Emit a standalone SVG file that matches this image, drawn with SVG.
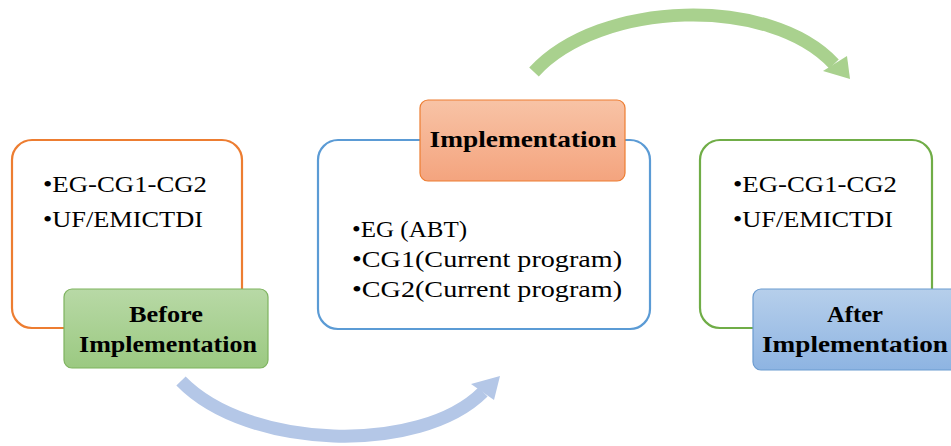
<svg xmlns="http://www.w3.org/2000/svg" width="951" height="446" viewBox="0 0 951 446">
<style>
.frame{fill:#ffffff;stroke-width:2.2}
.lbl{stroke-width:1.2}
.txt{font-family:"Liberation Serif","Times New Roman",serif;font-size:23.5px;fill:#000}
.b{font-weight:bold;text-anchor:middle}
</style>
<defs>
<linearGradient id="gGreen" x1="0" y1="0" x2="0" y2="1"><stop offset="0" stop-color="#b8d9a6"/><stop offset="1" stop-color="#9bc981"/></linearGradient>
<linearGradient id="gOrange" x1="0" y1="0" x2="0" y2="1"><stop offset="0" stop-color="#f8c3a6"/><stop offset="1" stop-color="#f4a47e"/></linearGradient>
<linearGradient id="gBlue" x1="0" y1="0" x2="0" y2="1"><stop offset="0" stop-color="#b6cfeb"/><stop offset="1" stop-color="#8eb4e2"/></linearGradient>
</defs>
<rect width="951" height="446" fill="#ffffff"/>
<g id="connectors">
<path d="M181,381 C248,450 420,455 483,392" fill="none" stroke="#b4c7e7" stroke-width="13"/>
<polygon points="500,376 471,384 494,400" fill="#b4c7e7"/>
<path d="M534,72 C600,0 770,-5 834,64" fill="none" stroke="#a9d18e" stroke-width="13"/>
<polygon points="850,79 823,71 847,56" fill="#a9d18e"/>
</g>
<g id="before">
<rect class="frame" x="12" y="140" width="230" height="188" rx="20" stroke="#ed7d31"/>
<text class="txt" x="43" y="192" textLength="164" lengthAdjust="spacingAndGlyphs">•EG-CG1-CG2</text>
<text class="txt" x="43" y="227" textLength="160" lengthAdjust="spacingAndGlyphs">•UF/EMICTDI</text>
</g>
<g id="before-label">
<rect class="lbl" x="64" y="289" width="204" height="79" rx="8" fill="url(#gGreen)" stroke="#7eb35f"/>
<text class="txt b" x="166" y="322" textLength="74" lengthAdjust="spacingAndGlyphs">Before</text>
<text class="txt b" x="168" y="352" textLength="178" lengthAdjust="spacingAndGlyphs">Implementation</text>
</g>
<g id="implementation">
<rect class="frame" x="318" y="140" width="332" height="189" rx="20" stroke="#5b9bd5"/>
<text class="txt" x="352" y="237" textLength="115" lengthAdjust="spacingAndGlyphs">•EG (ABT)</text>
<text class="txt" x="352" y="267" textLength="270" lengthAdjust="spacingAndGlyphs">•CG1(Current program)</text>
<text class="txt" x="352" y="297" textLength="270" lengthAdjust="spacingAndGlyphs">•CG2(Current program)</text>
</g>
<g id="implementation-label">
<rect class="lbl" x="420" y="100" width="205" height="81" rx="8" fill="url(#gOrange)" stroke="#ed7d31"/>
<text class="txt b" x="523" y="147" textLength="187" lengthAdjust="spacingAndGlyphs">Implementation</text>
</g>
<g id="after">
<rect class="frame" x="700" y="140" width="232" height="188" rx="20" stroke="#70ad47"/>
<text class="txt" x="733" y="192" textLength="164" lengthAdjust="spacingAndGlyphs">•EG-CG1-CG2</text>
<text class="txt" x="733" y="227" textLength="160" lengthAdjust="spacingAndGlyphs">•UF/EMICTDI</text>
</g>
<g id="after-label">
<rect class="lbl" x="753" y="289" width="206" height="81" rx="8" fill="url(#gBlue)" stroke="#6b9bd0"/>
<text class="txt b" x="855" y="322" textLength="56" lengthAdjust="spacingAndGlyphs">After</text>
<text class="txt b" x="855" y="352" textLength="186" lengthAdjust="spacingAndGlyphs">Implementation</text>
</g>
</svg>
